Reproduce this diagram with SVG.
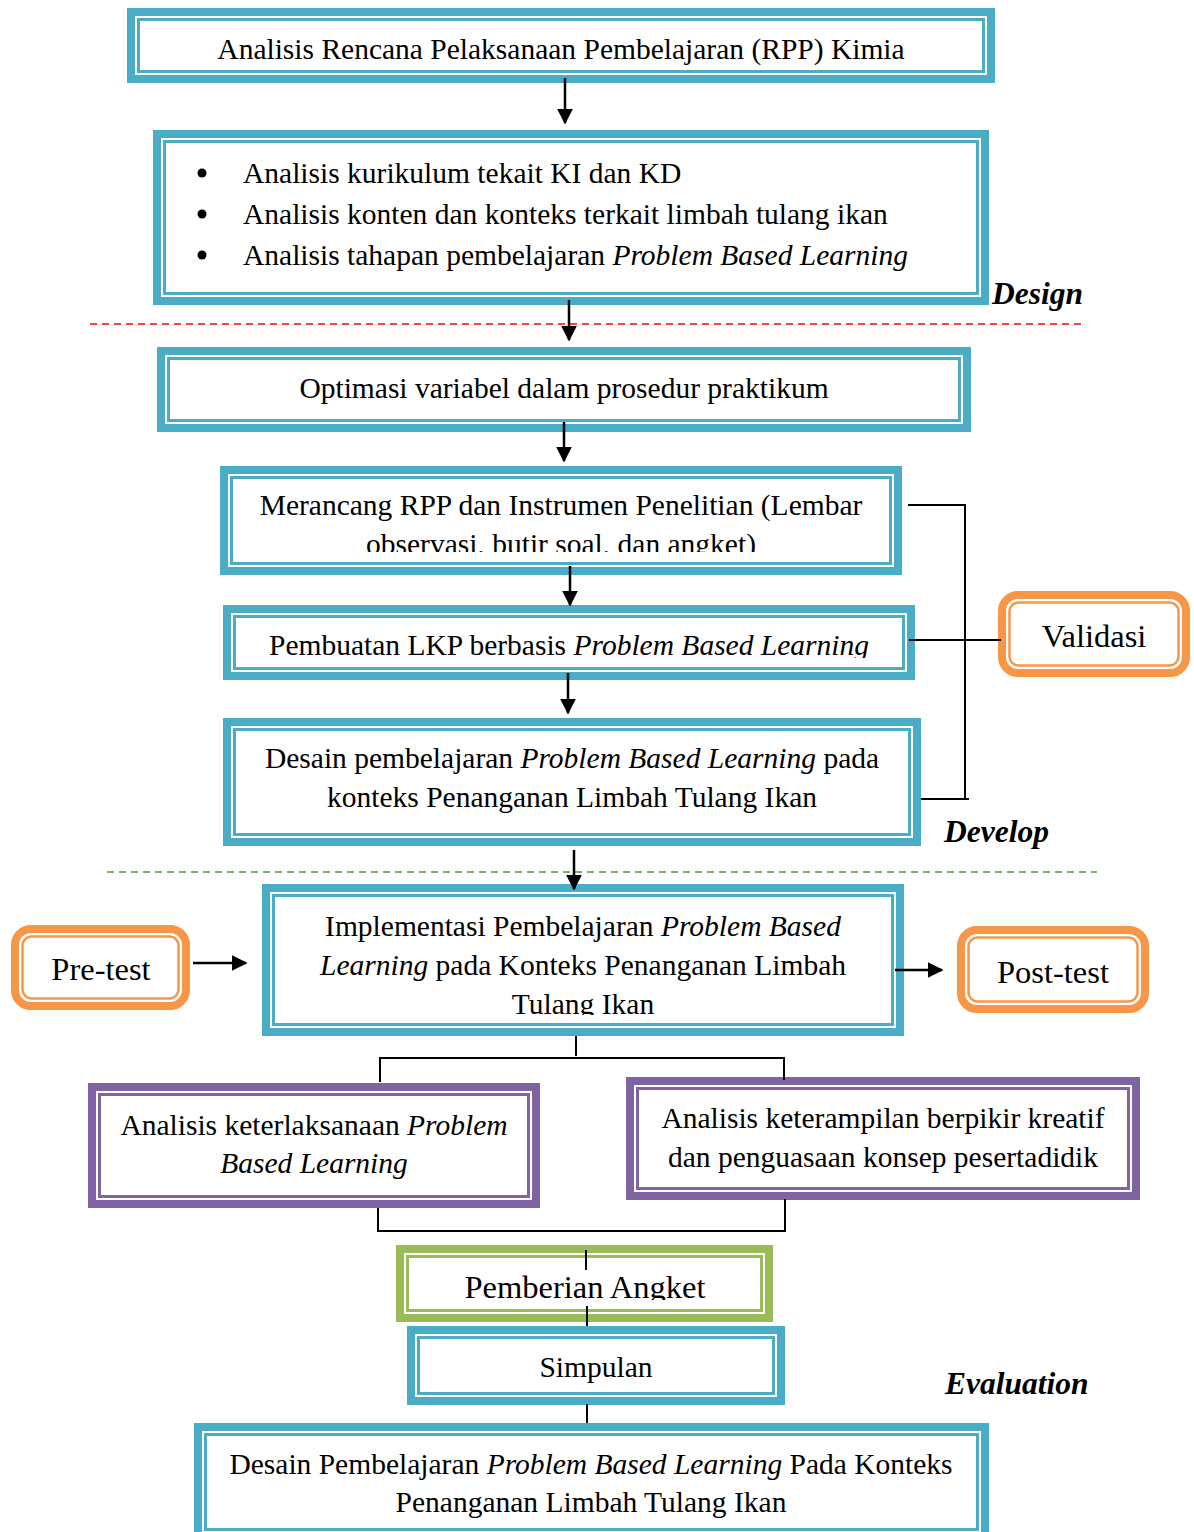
<svg xmlns="http://www.w3.org/2000/svg" width="1194" height="1532" viewBox="0 0 1194 1532">
<style>
text{font-family:"Liberation Serif","Times New Roman",serif;font-size:29.5px;fill:#000}
.c{text-anchor:middle}
.i{font-style:italic}
.lbl{font-weight:bold;font-style:italic;font-size:31.5px}
.big{font-size:32.5px}
.ot{fill:#fff;stroke:#4BACC6;stroke-width:8}
.it{fill:none;stroke:#4BACC6;stroke-width:3}
.op{fill:#fff;stroke:#8064A2;stroke-width:8}
.ip{fill:none;stroke:#8064A2;stroke-width:3}
.og{fill:#fff;stroke:#9BBB59;stroke-width:8}
.ig{fill:none;stroke:#9BBB59;stroke-width:3}
.oo{fill:#fff;stroke:#F79646;stroke-width:8}
.io{fill:none;stroke:#F79646;stroke-width:2.5}
.ln{fill:none;stroke:#000;stroke-width:2}
.ar{fill:none;stroke:#000;stroke-width:2.5;marker-end:url(#ah)}
</style>
<defs>
<marker id="ah" viewBox="0 0 10 10" refX="9" refY="5" markerWidth="6.4" markerHeight="6.4" orient="auto" markerUnits="strokeWidth">
<path d="M0,0 L10,5 L0,10 z" fill="#000"/>
</marker>
<clipPath id="c4"><rect x="231" y="477" width="660" height="75"/></clipPath>
<clipPath id="c5"><rect x="234" y="616" width="670" height="42"/></clipPath>
<clipPath id="c7"><rect x="273" y="895" width="620" height="120"/></clipPath>
<clipPath id="ca"><rect x="407" y="1256" width="355" height="44"/></clipPath>
<clipPath id="cf"><rect x="205" y="1434" width="773" height="84"/></clipPath>
</defs>
<rect width="1194" height="1532" fill="#fff"/>

<!-- separators and phase labels -->
<line x1="90" y1="324" x2="1082" y2="324" stroke="#FF0000" stroke-width="1.5" stroke-dasharray="7,5"/>
<line x1="107" y1="872" x2="1097" y2="872" stroke="#4E9A2E" stroke-width="1.5" stroke-dasharray="7,5"/>
<text class="lbl" x="992" y="304">Design</text>
<text class="lbl" x="944" y="842">Develop</text>
<text class="lbl" x="945" y="1394">Evaluation</text>

<g id="n1">
<rect class="ot" x="131" y="12" width="860" height="67"/>
<rect class="it" x="138.5" y="19.5" width="845" height="52"/>
<text class="c" x="561" y="59">Analisis Rencana Pelaksanaan Pembelajaran (RPP) Kimia</text>
</g>

<g id="n2">
<rect class="ot" x="157" y="134" width="828" height="167"/>
<rect class="it" x="164.5" y="141.5" width="813" height="152"/>
<circle cx="202" cy="173" r="4.5" fill="#000"/>
<circle cx="202" cy="214" r="4.5" fill="#000"/>
<circle cx="202" cy="255" r="4.5" fill="#000"/>
<text x="243" y="183">Analisis kurikulum tekait KI dan KD</text>
<text x="243" y="224">Analisis konten dan konteks terkait limbah tulang ikan</text>
<text x="243" y="265">Analisis tahapan pembelajaran <tspan class="i">Problem Based Learning</tspan></text>
</g>

<g id="n3">
<rect class="ot" x="161" y="351" width="806" height="77"/>
<rect class="it" x="168.5" y="358.5" width="791" height="62"/>
<text class="c" x="564" y="398">Optimasi variabel dalam prosedur praktikum</text>
</g>

<g id="n4">
<rect class="ot" x="224" y="470" width="674" height="101"/>
<rect class="it" x="231.5" y="477.5" width="659" height="86"/>
<g clip-path="url(#c4)">
<text class="c" x="561" y="515">Merancang RPP dan Instrumen Penelitian (Lembar</text>
<text class="c" x="561" y="554">observasi, butir soal, dan angket)</text>
</g>
</g>

<g id="n5">
<rect class="ot" x="227" y="609" width="684" height="67"/>
<rect class="it" x="234.5" y="616.5" width="669" height="52"/>
<g clip-path="url(#c5)">
<text class="c" x="569" y="655">Pembuatan LKP berbasis <tspan class="i">Problem Based Learning</tspan></text>
</g>
</g>

<g id="n6">
<rect class="ot" x="227" y="722" width="690" height="120"/>
<rect class="it" x="234.5" y="729.5" width="675" height="105"/>
<text class="c" x="572" y="768">Desain pembelajaran <tspan class="i">Problem Based Learning</tspan> pada</text>
<text class="c" x="572" y="807">konteks Penanganan Limbah Tulang Ikan</text>
</g>

<g id="n_validasi">
<rect class="oo" x="1002" y="595" width="184" height="78" rx="16"/>
<rect class="io" x="1009.5" y="602.5" width="169" height="63" rx="9"/>
<text class="c big" x="1094" y="647">Validasi</text>
</g>

<g id="n7">
<rect class="ot" x="266" y="888" width="634" height="144"/>
<rect class="it" x="273.5" y="895.5" width="619" height="129"/>
<g clip-path="url(#c7)">
<text class="c" x="583" y="936">Implementasi Pembelajaran <tspan class="i">Problem Based</tspan></text>
<text class="c" x="583" y="975"><tspan class="i">Learning</tspan> pada Konteks Penanganan Limbah</text>
<text class="c" x="583" y="1014">Tulang Ikan</text>
</g>
</g>

<g id="n_pretest">
<rect class="oo" x="15" y="929" width="171" height="77" rx="16"/>
<rect class="io" x="22.5" y="936.5" width="156" height="62" rx="9"/>
<text class="c big" x="101" y="980">Pre-test</text>
</g>

<g id="n_posttest">
<rect class="oo" x="961" y="930" width="184" height="79" rx="16"/>
<rect class="io" x="968.5" y="937.5" width="169" height="64" rx="9"/>
<text class="c big" x="1053" y="983">Post-test</text>
</g>

<g id="n8">
<rect class="op" x="92" y="1087" width="444" height="117"/>
<rect class="ip" x="99.5" y="1094.5" width="429" height="102"/>
<text class="c" x="314" y="1135">Analisis keterlaksanaan <tspan class="i">Problem</tspan></text>
<text class="c i" x="314" y="1173">Based Learning</text>
</g>

<g id="n9">
<rect class="op" x="630" y="1081" width="506" height="115"/>
<rect class="ip" x="637.5" y="1088.5" width="491" height="100"/>
<text class="c" x="883" y="1128">Analisis keterampilan berpikir kreatif</text>
<text class="c" x="883" y="1167">dan penguasaan konsep pesertadidik</text>
</g>

<g id="n_angket">
<rect class="og" x="400" y="1249" width="369" height="69"/>
<rect class="ig" x="407.5" y="1256.5" width="354" height="54"/>
<g clip-path="url(#ca)">
<text class="c big" x="585" y="1298">Pemberian Angket</text>
</g>
</g>

<g id="n_simpulan">
<rect class="ot" x="411" y="1330" width="370" height="71"/>
<rect class="it" x="418.5" y="1337.5" width="355" height="56"/>
<text class="c" x="596" y="1377">Simpulan</text>
</g>

<g id="n_final">
<rect class="ot" x="198" y="1427" width="787" height="110"/>
<rect class="it" x="205.5" y="1434.5" width="772" height="95"/>
<g clip-path="url(#cf)">
<text class="c" x="591" y="1474">Desain Pembelajaran <tspan class="i">Problem Based Learning</tspan> Pada Konteks</text>
<text class="c" x="591" y="1512">Penanganan Limbah Tulang Ikan</text>
</g>
</g>

<g id="connectors">
<line class="ar" x1="565" y1="78" x2="565" y2="123"/>
<line class="ar" x1="569" y1="300" x2="569" y2="340"/>
<line class="ar" x1="564" y1="422" x2="564" y2="461"/>
<line class="ar" x1="570" y1="566" x2="570" y2="605"/>
<line class="ar" x1="568" y1="673" x2="568" y2="713"/>
<line class="ar" x1="574" y1="850" x2="574" y2="889"/>
<line class="ar" x1="193" y1="963" x2="246" y2="963"/>
<line class="ar" x1="895" y1="970" x2="942" y2="970"/>
<polyline class="ln" points="908,505 965,505 965,799"/>
<line class="ln" x1="921" y1="799" x2="969" y2="799"/>
<line class="ln" x1="909" y1="640" x2="1001" y2="640"/>
<line class="ln" x1="576" y1="1036" x2="576" y2="1056"/>
<polyline class="ln" points="380,1082 380,1058 784,1058 784,1080"/>
<polyline class="ln" points="378,1208 378,1231 785,1231 785,1199"/>
<line class="ln" x1="586" y1="1250" x2="586" y2="1270"/>
<line class="ln" x1="587" y1="1306" x2="587" y2="1326"/>
<line class="ln" x1="587" y1="1404" x2="587" y2="1423"/>
</g>
</svg>
